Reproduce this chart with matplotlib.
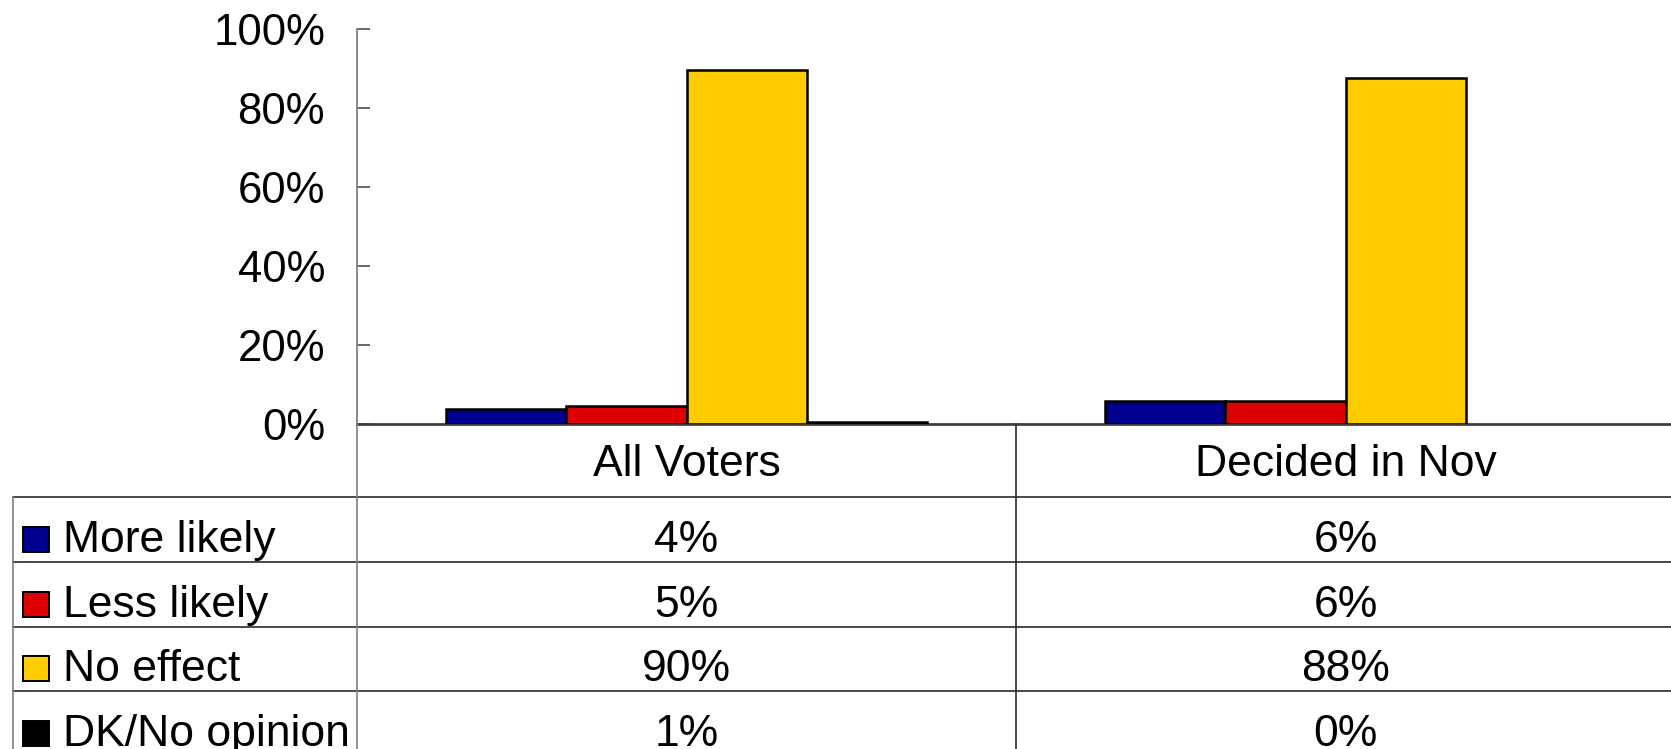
import matplotlib

matplotlib.use('Agg')  # no display
import matplotlib.pyplot as plt
from matplotlib.patches import Rectangle
from matplotlib.transforms import blended_transform_factory

categories = ["All Voters", "Decided in Nov"]
series_names = ["More likely", "Less likely", "No effect", "DK/No opinion"]
more_likely = [3.9, 5.8]
less_likely = [4.6, 5.8]
no_effect = [89.7, 87.6]
dk_no_opinion = [0.6, 0.0]
y_ticks = [0, 20, 40, 60, 80, 100]

series_values = [more_likely, less_likely, no_effect, dk_no_opinion]
colors = ['#000090', '#DD0000', '#FFCC00', '#000000']

W, H = 1671, 749
plt.rcParams['font.family'] = ['Liberation Sans', 'DejaVu Sans']


def fx(px):
    return px / W


def fy(py):
    return 1 - py / H


fig = plt.figure(figsize=(W / 100, H / 100), dpi=100)

# main bar axes, right edge runs slightly past the figure like the original
ax = fig.add_axes([fx(357), fy(424), fx(1675) - fx(357), fy(29.3) - fy(424)])
bar_w = 0.1826
for i, (vals, col) in enumerate(zip(series_values, colors)):
    xs = [c + (i - 1.5) * bar_w for c in range(len(categories))]
    widths = [1.8 if v > 0 else 0 for v in vals]
    ax.bar(xs, vals, width=bar_w, color=col, edgecolor='black', linewidth=widths, zorder=3)

ax.set_xlim(-0.5, 1.5)
ax.set_ylim(0, 100)
ax.spines['top'].set_visible(False)
ax.spines['right'].set_visible(False)
ax.spines['bottom'].set_color('#404040')
ax.spines['bottom'].set_linewidth(2)
ax.spines['bottom'].set_zorder(2)
ax.spines['left'].set_color('#808080')
ax.spines['left'].set_linewidth(1.3)
ax.set_yticks(y_ticks)
ax.set_yticklabels([f"{t}%" for t in y_ticks])
ax.tick_params(axis='y', direction='in', length=9.5, width=1.1, color='#404040', pad=23, labelsize=31.5)
ax.set_xticks([])

# data table drawn in pixel coordinates below the axes
tab = fig.add_axes([0, 0, 1, 1])
tab.set_xlim(0, W)
tab.set_ylim(H, 0)
tab.axis('off')
blend = blended_transform_factory(ax.transData, tab.transData)

rows = [497, 562, 627, 691, 756]
for y in rows[:-1]:
    tab.plot([13, W], [y, y], color='#2a2a2a', lw=1.2)
tab.plot([13, 13], [497, H], color='#808080', lw=1.2)
tab.plot([357, 357], [424, H], color='#808080', lw=1.2)
tab.plot([0.5, 0.5], [424, H], color='#2a2a2a', lw=1.2, transform=blend)

for c, cat in enumerate(categories):
    tab.text(c, 476, cat, transform=blend, ha='center', va='baseline', fontsize=32)

for r, (name, vals, col) in enumerate(zip(series_names, series_values, colors)):
    base = rows[r + 1] - 10
    tab.add_patch(Rectangle((23, base - 25), 26, 25, facecolor=col, edgecolor='black', lw=1.4))
    tab.text(63, base, name, ha='left', va='baseline', fontsize=32)
    for c, v in enumerate(vals):
        tab.text(c, base, f"{v:.0f}%", transform=blend, ha='center', va='baseline', fontsize=32)

fig.savefig('out.png', dpi=100)
